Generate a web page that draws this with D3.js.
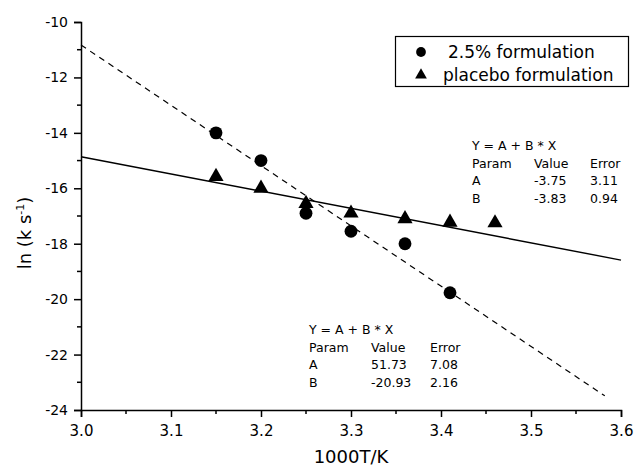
<!DOCTYPE html>
<html>
<head>
<meta charset="utf-8">
<script src="https://cdn.jsdelivr.net/npm/d3@7"></script>
<style>
	body { margin: 0; background: #fff; }
	text { font-family: "DejaVu Sans", sans-serif; fill: #000; }
</style>
</head>
<body>
<svg width="635" height="469"></svg>
<script>
// data
let activeX = [3.15, 3.2, 3.25, 3.3, 3.36, 3.41]
let activeY = [-14.0, -15.0, -16.9, -17.55, -18.0, -19.77]
let placeboX = [3.15, 3.2, 3.25, 3.3, 3.36, 3.41, 3.46]
let placeboY = [-15.58, -16.0, -16.55, -16.9, -17.1, -17.23, -17.25]
let activeFitX = [3.0, 3.582]
let activeFitY = [-10.83, -23.49]
let placeboFitX = [3.0, 3.6]
let placeboFitY = [-14.86, -18.59]
let xTicks = [3.0, 3.1, 3.2, 3.3, 3.4, 3.5, 3.6]
let yTicks = [-24, -22, -20, -18, -16, -14, -12, -10]
let legendLabels = ['2.5% formulation', 'placebo formulation']
let placeboFitText = [['Y = A + B * X'], ['Param', 'Value', 'Error'], ['A', '-3.75', '3.11'], ['B', '-3.83', '0.94']]
let activeFitText = [['Y = A + B * X'], ['Param', 'Value', 'Error'], ['A', '51.73', '7.08'], ['B', '-20.93', '2.16']]

let svg = d3.select('svg')
let plotLeft = 81, plotRight = 621, plotTop = 22, plotBottom = 410

let x = d3.scaleLinear().domain([3.0, 3.6]).range([plotLeft, plotRight])
let y = d3.scaleLinear().domain([-24, -10]).range([plotBottom, plotTop])

// axes
let xAxis = d3.axisBottom(x).tickValues(xTicks).tickFormat(d3.format('.1f')).tickSize(7).tickPadding(8)
let yAxis = d3.axisLeft(y).tickValues(yTicks).tickFormat(d => String(d)).tickSize(7).tickPadding(6)

let gx = svg.append('g').attr('transform', 'translate(0,' + plotBottom + ')').call(xAxis)
let gy = svg.append('g').attr('transform', 'translate(' + plotLeft + ',0)').call(yAxis)

gx.attr('font-family', 'DejaVu Sans, sans-serif').attr('font-size', 15)
gy.attr('font-family', 'DejaVu Sans, sans-serif').attr('font-size', 14)
gx.selectAll('.tick line').attr('stroke-width', 1.5)
gy.selectAll('.tick line').attr('stroke-width', 1.5)
gx.select('.domain').attr('stroke-width', 1.5)
gy.select('.domain').attr('stroke-width', 1.5)

// minor ticks
let xMinor = d3.range(3.05, 3.6, 0.1)
let yMinor = d3.range(-23, -10, 2)
svg.append('g').selectAll('line').data(xMinor).join('line')
	.attr('x1', d => x(d)).attr('x2', d => x(d))
	.attr('y1', plotBottom).attr('y2', plotBottom + 4)
	.attr('stroke', '#000').attr('stroke-width', 1.5)
svg.append('g').selectAll('line').data(yMinor).join('line')
	.attr('x1', plotLeft).attr('x2', plotLeft - 4)
	.attr('y1', d => y(d)).attr('y2', d => y(d))
	.attr('stroke', '#000').attr('stroke-width', 1.5)

// axis titles
svg.append('text')
	.attr('x', x(3.3)).attr('y', 463)
	.attr('text-anchor', 'middle').attr('font-size', 18)
	.text('1000T/K')

let yl = svg.append('text')
	.attr('transform', 'translate(31,233) rotate(-90)')
	.attr('text-anchor', 'middle').attr('font-size', 18)
yl.append('tspan').text('ln (k s')
yl.append('tspan').attr('font-size', 11).attr('dy', -7).text('-1')
yl.append('tspan').attr('dy', 7).text(')')

// fit lines
let line = d3.line().x(d => x(d[0])).y(d => y(d[1]))
svg.append('path')
	.datum(d3.zip(activeFitX, activeFitY))
	.attr('d', line).attr('fill', 'none').attr('stroke', '#000')
	.attr('stroke-width', 1.2).attr('stroke-dasharray', '6,5')
svg.append('path')
	.datum(d3.zip(placeboFitX, placeboFitY))
	.attr('d', line).attr('fill', 'none').attr('stroke', '#000')
	.attr('stroke-width', 1.4)

// markers
let circle = d3.symbol().type(d3.symbolCircle).size(130)
let triangle = d3.symbol().type(d3.symbolTriangle).size(100)

svg.append('g').selectAll('path').data(d3.zip(placeboX, placeboY)).join('path')
	.attr('d', triangle)
	.attr('transform', d => 'translate(' + x(d[0]) + ',' + y(d[1]) + ')')
	.attr('fill', '#000')
svg.append('g').selectAll('path').data(d3.zip(activeX, activeY)).join('path')
	.attr('d', circle)
	.attr('transform', d => 'translate(' + x(d[0]) + ',' + y(d[1]) + ')')
	.attr('fill', '#000')

// legend
let legend = svg.append('g')
legend.append('rect')
	.attr('x', 395.5).attr('y', 36.5).attr('width', 233).attr('height', 50)
	.attr('fill', '#fff').attr('stroke', '#000').attr('stroke-width', 1.2)
legend.append('path').attr('d', d3.symbol().type(d3.symbolCircle).size(75))
	.attr('transform', 'translate(421,52)')
legend.append('path').attr('d', d3.symbol().type(d3.symbolTriangle).size(60))
	.attr('transform', 'translate(421,75)')
legend.selectAll('text.lg').data(legendLabels).join('text')
	.attr('class', 'lg')
	.attr('x', (d, i) => i == 0 ? 448 : 443)
	.attr('y', (d, i) => 58 + i * 23)
	.attr('font-size', 17)
	.text(d => d)

// fit parameter tables
function fitTable(rows, x0, y0, cols) {
	let g = svg.append('g')
	rows.forEach((row, r) => {
		row.forEach((cell, c) => {
			g.append('text')
				.attr('x', x0 + cols[c]).attr('y', y0 + r * 17.5)
				.attr('font-size', 12.5)
				.text(cell)
		})
	})
}
fitTable(placeboFitText, 472, 150, [0, 62, 118])
fitTable(activeFitText, 309, 334, [0, 62, 121])
</script>
</body>
</html>
